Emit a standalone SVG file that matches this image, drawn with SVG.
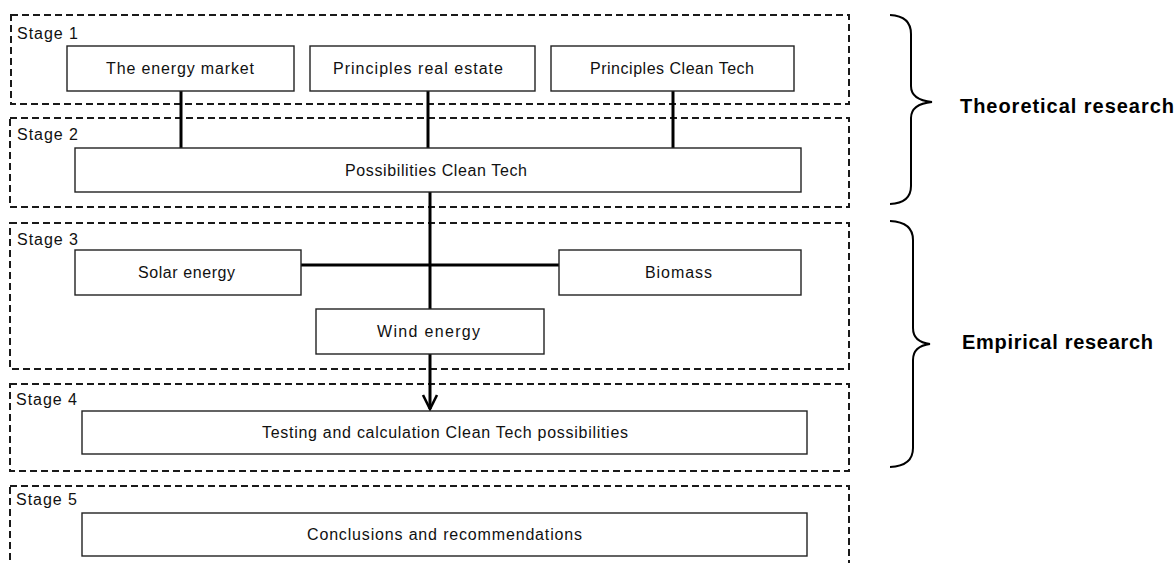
<svg xmlns="http://www.w3.org/2000/svg" width="1176" height="563" viewBox="0 0 1176 563">
<style>
.stage{fill:none;stroke:#1a1a1a;stroke-width:2;stroke-dasharray:7 4}
.box{fill:#fff;stroke:#222;stroke-width:1.4}
.lbl{font-family:"Liberation Sans",Arial,sans-serif;font-size:16px;fill:#111}
.st{font-family:"Liberation Sans",Arial,sans-serif;font-size:16px;fill:#111}
.brace{fill:none;stroke:#000;stroke-width:2}
.side{font-family:"Liberation Sans",Arial,sans-serif;font-size:20px;font-weight:bold;fill:#000}
.conn{stroke:#000;stroke-width:3;fill:none}
</style>
<defs>
<marker id="arr" markerWidth="20" markerHeight="20" refX="16" refY="10" orient="auto" markerUnits="userSpaceOnUse" viewBox="0 0 20 20">
<path d="M2,3 L16,10 L2,17" fill="none" stroke="#000" stroke-width="2.6"/>
</marker>
</defs>
<g id="stages">
<rect id="stage1" class="stage" x="11" y="15" width="838" height="89"/>
<rect id="stage2" class="stage" x="10" y="118" width="839" height="89"/>
<rect id="stage3" class="stage" x="10" y="223" width="839" height="146"/>
<rect id="stage4" class="stage" x="10" y="384" width="839" height="87"/>
<rect id="stage5" class="stage" x="10" y="486" width="839" height="100"/>
<text class="st" x="17" y="39" textLength="61">Stage 1</text>
<text class="st" x="17" y="140" textLength="61">Stage 2</text>
<text class="st" x="17" y="245" textLength="61">Stage 3</text>
<text class="st" x="16" y="405" textLength="61">Stage 4</text>
<text class="st" x="16" y="505" textLength="61">Stage 5</text>
</g>
<g id="connectors">
<line class="conn" x1="181" y1="91" x2="181" y2="148"/>
<line class="conn" x1="428" y1="91" x2="428" y2="148"/>
<line class="conn" x1="673" y1="91" x2="673" y2="148"/>
<line class="conn" x1="430" y1="192" x2="430" y2="309"/>
<line class="conn" x1="301" y1="265" x2="559" y2="265"/>
<line class="conn" x1="430" y1="354" x2="430" y2="409" marker-end="url(#arr)"/>
</g>
<g id="n-energy-market"><rect class="box" x="67" y="46" width="227" height="45"/><text class="lbl" x="106" y="74" textLength="148">The energy market</text></g>
<g id="n-real-estate"><rect class="box" x="310" y="46" width="225" height="45"/><text class="lbl" x="333" y="74" textLength="170">Principles real estate</text></g>
<g id="n-clean-tech"><rect class="box" x="551" y="46" width="243" height="45"/><text class="lbl" x="590" y="74" textLength="164">Principles Clean Tech</text></g>
<g id="n-possibilities"><rect class="box" x="75" y="148" width="726" height="44"/><text class="lbl" x="345" y="176" textLength="182">Possibilities Clean Tech</text></g>
<g id="n-solar"><rect class="box" x="75" y="250" width="226" height="45"/><text class="lbl" x="138" y="278" textLength="97">Solar energy</text></g>
<g id="n-biomass"><rect class="box" x="559" y="250" width="242" height="45"/><text class="lbl" x="645" y="278" textLength="67">Biomass</text></g>
<g id="n-wind"><rect class="box" x="316" y="309" width="228" height="45"/><text class="lbl" x="377" y="337" textLength="103">Wind energy</text></g>
<g id="n-testing"><rect class="box" x="82" y="411" width="725" height="43"/><text class="lbl" x="262" y="438" textLength="366">Testing and calculation Clean Tech possibilities</text></g>
<g id="n-conclusions"><rect class="box" x="82" y="513" width="725" height="43"/><text class="lbl" x="307" y="540" textLength="275">Conclusions and recommendations</text></g>
<g id="brace-theoretical">
<path class="brace" d="M890,15 Q911,16 911,34 L911,86 Q911,100 932,102 Q911,104 911,118 L911,186 Q911,203 890,204"/>
<text class="side" x="960" y="113" textLength="214">Theoretical research</text>
</g>
<g id="brace-empirical">
<path class="brace" d="M890,221 Q913,222 913,240 L913,328 Q913,342 930,344 Q913,346 913,360 L913,448 Q913,466 890,467"/>
<text class="side" x="962" y="349" textLength="191">Empirical research</text>
</g>
</svg>
